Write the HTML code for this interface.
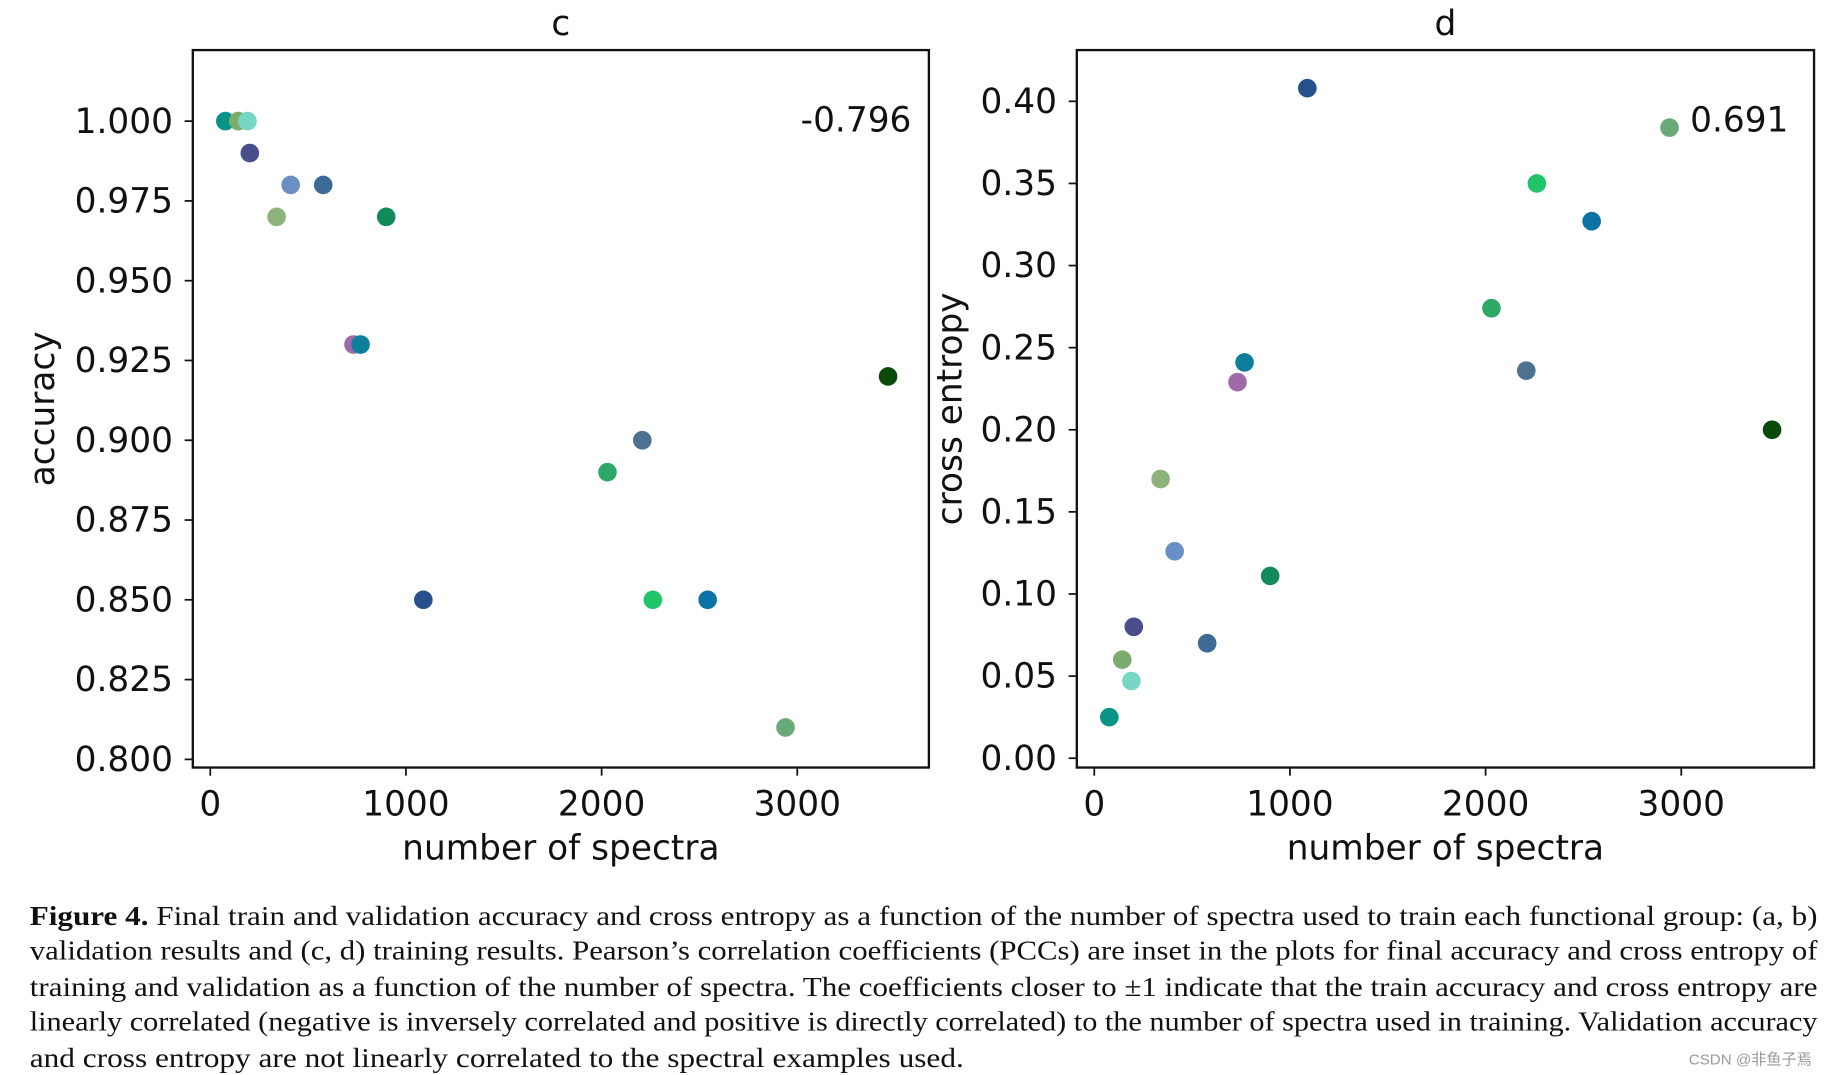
<!DOCTYPE html>
<html><head><meta charset="utf-8"><style>
html,body{margin:0;padding:0;background:#fff;}
svg{display:block;}
.tk{font-family:"DejaVu Sans","Liberation Sans",sans-serif;font-size:29.5px;fill:#111;}
.cap{font-family:"Liberation Serif",serif;font-size:24px;fill:#111;}
</style></head><body>
<svg id="fig" width="1824" height="1075" viewBox="0 0 1565 923" xmlns="http://www.w3.org/2000/svg">
<g id="pc"></g>
<g id="pd"></g>
<g>
<text class="cap" x="25" y="794" textLength="1535" lengthAdjust="spacingAndGlyphs"><tspan font-weight="bold">Figure 4.</tspan> Final train and validation accuracy and cross entropy as a function of the number of spectra used to train each functional group: (a, b)</text>
<text class="cap" x="25" y="824" textLength="1535" lengthAdjust="spacingAndGlyphs">validation results and (c, d) training results. Pearson’s correlation coefficients (PCCs) are inset in the plots for final accuracy and cross entropy of</text>
<text class="cap" x="25" y="855" textLength="1535" lengthAdjust="spacingAndGlyphs">training and validation as a function of the number of spectra. The coefficients closer to ±1 indicate that the train accuracy and cross entropy are</text>
<text class="cap" x="25" y="885" textLength="1535" lengthAdjust="spacingAndGlyphs">linearly correlated (negative is inversely correlated and positive is directly correlated) to the number of spectra used in training. Validation accuracy</text>
<text class="cap" x="25" y="916" textLength="802" lengthAdjust="spacingAndGlyphs">and cross entropy are not linearly correlated to the spectral examples used.</text>
<text x="1555" y="914" text-anchor="end" font-family="Liberation Sans,'Noto Sans CJK SC',sans-serif" font-size="13" fill="#999">CSDN @非鱼子焉</text>
</g>
</svg>
<script>
const spectra = [77,143,190,202,411,577,339,899,732,768,3464,2208,2030,1089,2262,2542,2940];
const accuracy = [1.0,1.0,1.0,0.99,0.98,0.98,0.97,0.97,0.93,0.93,0.92,0.90,0.89,0.85,0.85,0.85,0.81];
const crossEntropy = [0.025,0.06,0.047,0.08,0.126,0.07,0.17,0.111,0.229,0.241,0.20,0.236,0.274,0.408,0.35,0.327,0.384];
const colors = ['#079487','#7cab6e','#76d7c4','#4a4e8c','#6a8fc4','#3d6a96','#8db27a','#128a5c','#a06aaa','#0d7f9a','#0a4a0a','#4d7191','#2ea866','#26508c','#22c46a','#0a72a4','#6aaa78'];
const xTicks = [0,1000,2000,3000];
const accTicks = [0.800,0.825,0.850,0.875,0.900,0.925,0.950,0.975,1.000];
const ceTicks = [0.00,0.05,0.10,0.15,0.20,0.25,0.30,0.35,0.40];
const NS='http://www.w3.org/2000/svg';
function mk(p,tag,a,txt){const e=document.createElementNS(NS,tag);for(const k in a)e.setAttribute(k,a[k]);if(txt!=null)e.textContent=txt;p.appendChild(e);return e;}
function panel(g,o){
  const xS=v=>o.x0+v*0.168;
  const yS=v=>o.yb+(v-o.ymin)/(o.ymax-o.ymin)*(o.yt-o.yb);
  const t=mk(g,'text',{x:(o.L+o.R)/2,y:30,'text-anchor':'middle',class:'tk','font-size':'34'},o.title);
  
  
  xTicks.forEach(v=>{
    const x=xS(v);
    mk(g,'line',{x1:x,x2:x,y1:659,y2:666,stroke:'#111','stroke-width':1.5});
    const l=mk(g,'text',{x:x,y:700,'text-anchor':'middle',class:'tk'},String(v));
    
    
  });
  o.ticks.forEach(v=>{
    const y=yS(v);
    mk(g,'line',{x1:o.L-7,x2:o.L,y1:y,y2:y,stroke:'#111','stroke-width':1.5});
    const l=mk(g,'text',{x:o.L-17,y:y+10,'text-anchor':'end',class:'tk'},v.toFixed(o.dec));
    
    
  });
  const xt=mk(g,'text',{x:(o.L+o.R)/2,y:738,'text-anchor':'middle',class:'tk'},'number of spectra');
  
  
  const yt=mk(g,'text',{x:0,y:0,'text-anchor':'middle',class:'tk',transform:`translate(${o.ytx},351) rotate(-90)`},o.ylabel);
  
  
  spectra.forEach((s,i)=>{
    const c=mk(g,'circle',{cx:xS(s),cy:yS(o.vals[i]),r:8,fill:colors[i]});
    
    
  });
  mk(g,'rect',{x:o.L,y:43,width:o.R-o.L,height:616,fill:'none',stroke:'#111','stroke-width':2});
  const pc=mk(g,'text',{x:o.pccX,y:113,'text-anchor':'end',class:'tk'},o.pcc);
  
  
}
panel(document.getElementById('pc'),{L:165,R:797,x0:180,yb:652,yt:104,ymin:0.8,ymax:1.0,ticks:accTicks,dec:3,vals:accuracy,title:'c',ylabel:'accuracy',ytx:46,pcc:'-0.796',pccX:782});
panel(document.getElementById('pd'),{L:924,R:1557,x0:939,yb:651,yt:87,ymin:0,ymax:0.4,ticks:ceTicks,dec:2,vals:crossEntropy,title:'d',ylabel:'cross entropy',ytx:825,pcc:'0.691',pccX:1535});
</script>
</body></html>
